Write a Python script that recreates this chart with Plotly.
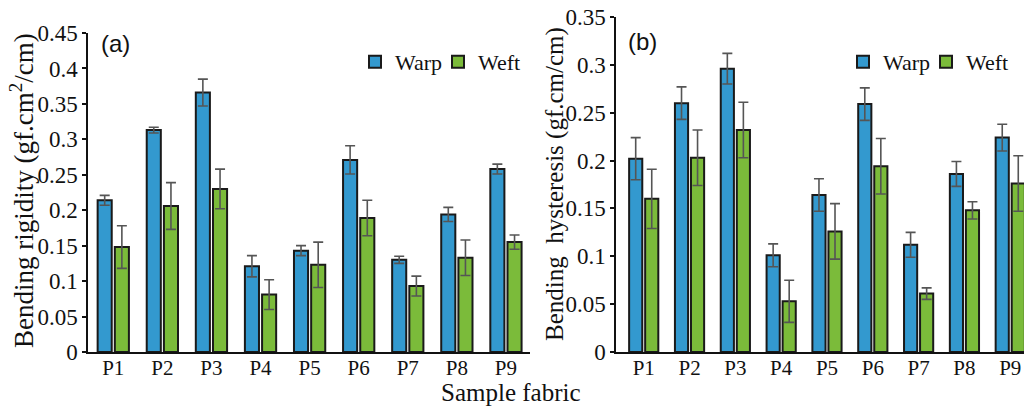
import plotly.graph_objects as go

samples = ["P1", "P2", "P3", "P4", "P5", "P6", "P7", "P8", "P9"]

# (a) Bending rigidity (gf.cm2/cm)
rigidity_warp = [0.214, 0.313, 0.366, 0.121, 0.143, 0.271, 0.130, 0.194, 0.258]
rigidity_warp_err = [0.007, 0.004, 0.019, 0.015, 0.007, 0.020, 0.005, 0.010, 0.007]
rigidity_weft = [0.148, 0.206, 0.230, 0.081, 0.123, 0.189, 0.093, 0.133, 0.155]
rigidity_weft_err = [0.030, 0.033, 0.028, 0.021, 0.032, 0.025, 0.014, 0.025, 0.010]

# (b) Bending hysteresis (gf.cm/cm)
hyst_warp = [0.202, 0.260, 0.296, 0.101, 0.164, 0.259, 0.112, 0.186, 0.224]
hyst_warp_err = [0.022, 0.017, 0.016, 0.012, 0.017, 0.017, 0.013, 0.013, 0.014]
hyst_weft = [0.160, 0.203, 0.232, 0.053, 0.126, 0.194, 0.061, 0.148, 0.176]
hyst_weft_err = [0.031, 0.029, 0.029, 0.022, 0.029, 0.029, 0.006, 0.009, 0.029]

BLUE = "#3399cf"
GREEN = "#7bbb3a"
EDGE = "#1a1a1a"
ERR = "#555555"
SERIF = "Liberation Serif, Times New Roman, DejaVu Serif, serif"
SANS = "Liberation Sans, Arial, sans-serif"
W, H = 1024, 406

fig = go.Figure()

def add_bars(y, err, name, color, xa, ya, legend):
    fig.add_trace(go.Bar(
        x=samples, y=y, name=name, xaxis=xa, yaxis=ya, legend=legend,
        marker=dict(color=color, line=dict(color=EDGE, width=2)),
        error_y=dict(type="data", array=err, color=ERR, thickness=1.6, width=5),
    ))

add_bars(rigidity_warp, rigidity_warp_err, "Warp", BLUE, "x", "y", "legend")
add_bars(rigidity_weft, rigidity_weft_err, "Weft", GREEN, "x", "y", "legend")
add_bars(hyst_warp, hyst_warp_err, "Warp", BLUE, "x2", "y2", "legend2")
add_bars(hyst_weft, hyst_weft_err, "Weft", GREEN, "x2", "y2", "legend2")

yax = dict(showline=True, linecolor="#111", linewidth=1.5, ticks="outside", ticklen=4,
           tickcolor="#111", tickwidth=1.5, showgrid=False, zeroline=False,
           dtick=0.05, automargin=False,
           tickfont=dict(family=SERIF, size=23, color="#111"))
xax = dict(showline=True, linecolor="#111", linewidth=1.5, ticks="", showgrid=False,
           automargin=False, type="category", ticklabelstandoff=-4,
           tickfont=dict(family=SERIF, size=21, color="#111"))

legfont = dict(family=SERIF, size=22, color="#111")

fig.update_layout(
    width=W, height=H,
    margin=dict(l=0, r=0, t=0, b=0, autoexpand=False),
    paper_bgcolor="white", plot_bgcolor="white",
    barmode="group", bargap=0.3, bargroupgap=0.18,
    xaxis=dict(xax, domain=[88 / W, 530 / W], range=[-0.515, 8.49], anchor="y"),
    yaxis=dict(yax, domain=[54 / H, 373 / H], range=[0, 0.45], anchor="x"),
    xaxis2=dict(xax, domain=[616 / W, 1.0], range=[-0.605, 8.30], anchor="y2"),
    yaxis2=dict(yax, domain=[54 / H, 389 / H], range=[0, 0.35], anchor="x2"),
    legend=dict(orientation="h", x=355 / W, y=1 - 62 / H, xanchor="left", yanchor="middle",
                font=legfont, bgcolor="rgba(0,0,0,0)", entrywidth=38, tracegroupgap=0),
    legend2=dict(orientation="h", x=843 / W, y=1 - 62 / H, xanchor="left", yanchor="middle",
                 font=legfont, bgcolor="rgba(0,0,0,0)", entrywidth=38, tracegroupgap=0),
    showlegend=True,
    annotations=[
        dict(text="Bending rigidity (gf.cm<sup>2</sup>/cm)", x=22 / W, y=1 - 191 / H,
             xref="paper", yref="paper", textangle=-90, showarrow=False,
             xanchor="center", yanchor="middle",
             font=dict(family=SERIF, size=27, color="#111")),
        dict(text="Bending&nbsp; hysteresis (gf.cm/cm)", x=555 / W, y=1 - 184 / H,
             xref="paper", yref="paper", textangle=-90, showarrow=False,
             xanchor="center", yanchor="middle",
             font=dict(family=SERIF, size=25, color="#111")),
        dict(text="(a)", x=115 / W, y=1 - 43 / H, xref="paper", yref="paper",
             xanchor="center", yanchor="middle", showarrow=False,
             font=dict(family=SANS, size=24, color="#111")),
        dict(text="(b)", x=642 / W, y=1 - 42 / H, xref="paper", yref="paper",
             xanchor="center", yanchor="middle", showarrow=False,
             font=dict(family=SANS, size=24, color="#111")),
        dict(text="Sample fabric", x=511 / W, y=1 - 392 / H, xref="paper", yref="paper",
             xanchor="center", yanchor="middle", showarrow=False,
             font=dict(family=SERIF, size=25, color="#111")),
    ],
)

fig.write_html(
    "out.html",
    config={"displayModeBar": False},
    post_script="document.body.style.margin='0px';document.body.style.padding='0px';"
                "document.body.style.overflow='hidden';",
)
